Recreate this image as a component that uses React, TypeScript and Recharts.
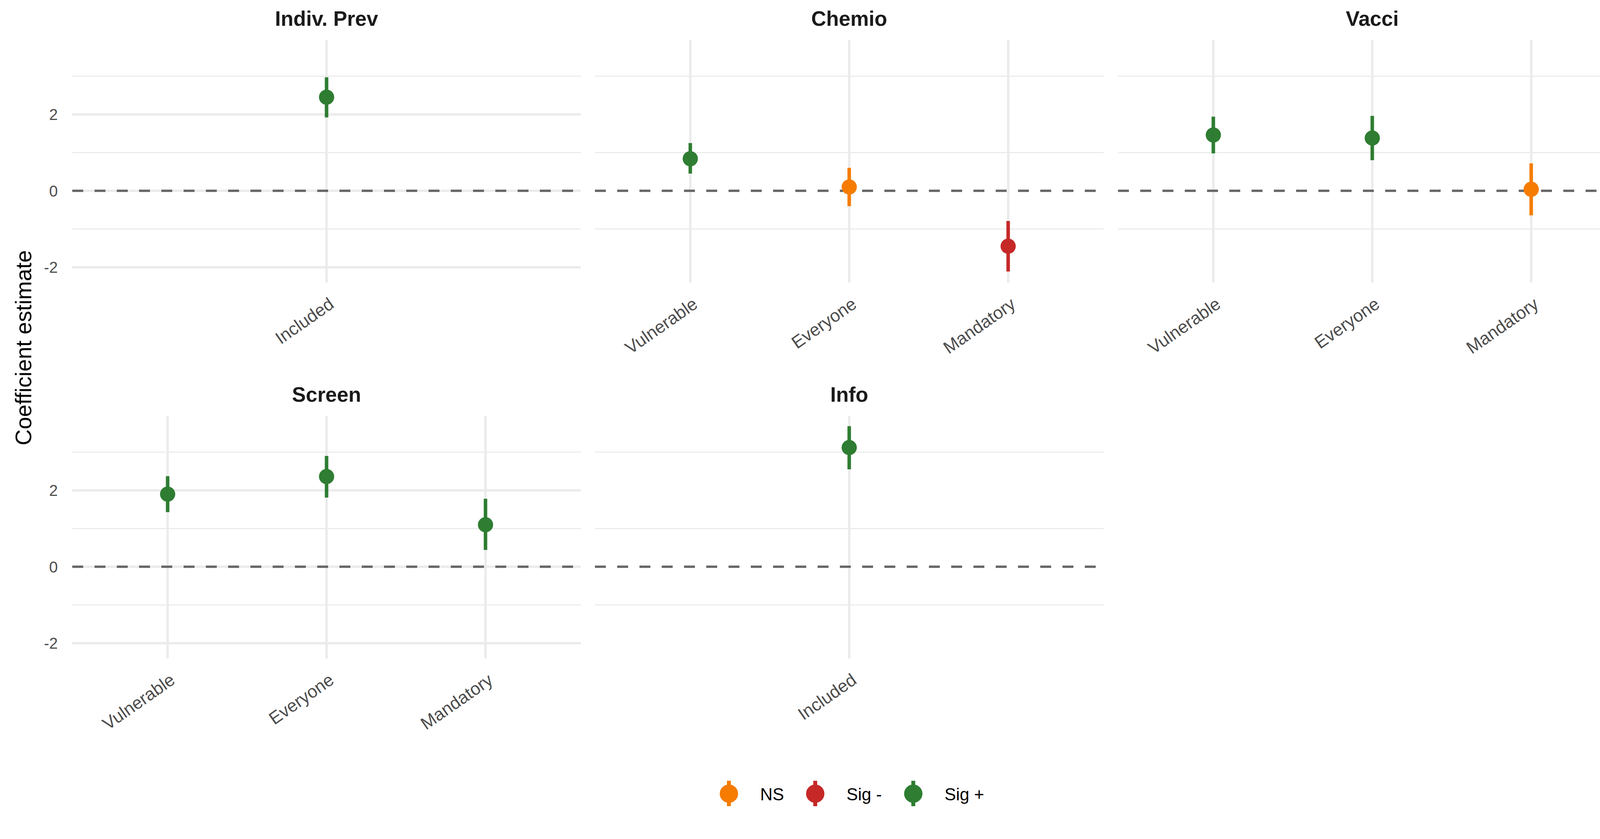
import React from 'react';
import { ComposedChart, Scatter, ErrorBar, XAxis, YAxis, CartesianGrid, ReferenceLine } from 'recharts';

const FONT = '"Liberation Sans", Arial, Helvetica, sans-serif';

// facets in display order
const facets = ['Indiv. Prev', 'Chemio', 'Vacci', 'Screen', 'Info'];

// one entry per coefficient
const rowFacet = ['Indiv. Prev', 'Chemio', 'Chemio', 'Chemio', 'Vacci', 'Vacci', 'Vacci', 'Screen', 'Screen', 'Screen', 'Info'];
const rowLevel = ['Included', 'Vulnerable', 'Everyone', 'Mandatory', 'Vulnerable', 'Everyone', 'Mandatory', 'Vulnerable', 'Everyone', 'Mandatory', 'Included'];
const estimate = [2.45, 0.84, 0.10, -1.45, 1.46, 1.38, 0.04, 1.90, 2.36, 1.10, 3.12];
const lower = [1.92, 0.45, -0.40, -2.11, 0.98, 0.80, -0.64, 1.43, 1.81, 0.44, 2.55];
const upper = [2.97, 1.25, 0.60, -0.79, 1.94, 1.96, 0.72, 2.37, 2.90, 1.78, 3.68];
const signif = ['Sig +', 'Sig +', 'NS', 'Sig -', 'Sig +', 'Sig +', 'NS', 'Sig +', 'Sig +', 'Sig +', 'Sig +'];

const statuses = ['NS', 'Sig -', 'Sig +'];
const statusColours = ['#F57C00', '#C62828', '#2E7D32'];

const yMajor = [-2, 0, 2];
const yMinor = [-1, 1, 3];
const yDomain = [-2.4, 3.95];

// layout
const PANEL_W = 1302;
const PANEL_H = 621;
const PAD_L = 180;
const PAD_B = 300;
const COL_LEFT = [185, 1523, 2862];
const ROW_TOP = [102, 1064];
const ROW_STEP = 962;

function Panel({ index }: { index: number }) {
  const name = facets[index];
  const col = index % 3;
  const row = Math.floor(index / 3);
  const idx = rowFacet.map((f, i) => (f === name ? i : -1)).filter(i => i >= 0);
  const levels = idx.map(i => rowLevel[i]);
  const points = idx.map((i, k) => ({
    pos: k + 1,
    est: estimate[i],
    err: [estimate[i] - lower[i], upper[i] - estimate[i]],
    status: signif[i],
  }));
  const positions = levels.map((_, k) => k + 1);
  const showY = col === 0;

  const XTick = (props: any) => {
    const { x, y, payload } = props;
    const ax = x + 22;
    const ay = y + 62;
    return (
      <text x={ax} y={ay} transform={`rotate(-35 ${ax} ${ay})`} textAnchor="end"
        fontSize={45} fill="#4D4D4D" fontFamily={FONT}>
        {levels[payload.value - 1]}
      </text>
    );
  };

  const YTick = (props: any) => {
    const { x, y, payload } = props;
    return (
      <text x={x - 37} y={y} dy="0.36em" textAnchor="end" fontSize={40} fill="#4D4D4D" fontFamily={FONT}>
        {payload.value}
      </text>
    );
  };

  return (
    <div style={{ position: 'absolute', left: COL_LEFT[col] - PAD_L, top: ROW_TOP[row] }}>
      <ComposedChart width={PAD_L + PANEL_W} height={PANEL_H + PAD_B} margin={{ top: 0, right: 0, bottom: 0, left: 0 }}>
        <CartesianGrid stroke="#EBEBEB" strokeWidth={6} horizontalValues={yMajor} verticalValues={positions} />
        <XAxis type="number" dataKey="pos" domain={[0.4, levels.length + 0.6]} ticks={positions} interval={0}
          height={PAD_B} axisLine={false} tickLine={false} tickSize={0} tickMargin={0} tick={<XTick />} allowDataOverflow />
        <YAxis type="number" dataKey="est" domain={yDomain} ticks={yMajor} interval={0} width={PAD_L}
          axisLine={false} tickLine={false} tickSize={0} tickMargin={0} tick={showY ? <YTick /> : false} allowDataOverflow />
        {yMinor.map(v => (
          <ReferenceLine key={v} y={v} stroke="#EBEBEB" strokeWidth={3} />
        ))}
        <ReferenceLine y={0} stroke="#666666" strokeWidth={6} strokeDasharray="28 29" />
        {statuses.map((s, si) => {
          const data = points.filter(p => p.status === s);
          if (!data.length) return null;
          return (
            <Scatter key={s} name={s} data={data} isAnimationActive={false}
              shape={(p: any) => <circle cx={p.cx} cy={p.cy} r={19.5} fill={statusColours[si]} />}>
              <ErrorBar dataKey="err" direction="y" width={0} stroke={statusColours[si]} strokeWidth={9} isAnimationActive={false} />
            </Scatter>
          );
        })}
      </ComposedChart>
    </div>
  );
}

export default function App() {
  return (
    <div style={{ position: 'absolute', left: 0, top: 0, width: 4200, height: 2147, background: '#fff', fontFamily: FONT }}>
      {facets.map((_, i) => <Panel key={i} index={i} />)}
      <svg width={4200} height={2147} style={{ position: 'absolute', left: 0, top: 0, pointerEvents: 'none' }}>
        {facets.map((f, i) => (
          <text key={f} x={COL_LEFT[i % 3] + PANEL_W / 2} y={66 + Math.floor(i / 3) * ROW_STEP} textAnchor="middle"
            fontSize={53} fontWeight="bold" fill="#1A1A1A" fontFamily={FONT}>
            {f}
          </text>
        ))}
        <text x={80} y={890} transform="rotate(-90 80 890)" textAnchor="middle" fontSize={57} fill="#000" fontFamily={FONT}>
          Coefficient estimate
        </text>
        {statuses.map((s, i) => {
          const cx = [1866, 2087, 2338][i];
          return (
            <g key={s}>
              <line x1={cx} x2={cx} y1={1998} y2={2063} stroke={statusColours[i]} strokeWidth={10} />
              <circle cx={cx} cy={2031} r={23.5} fill={statusColours[i]} />
              <text x={cx + 80} y={2048} fontSize={44} fill="#000" fontFamily={FONT}>{s}</text>
            </g>
          );
        })}
      </svg>
    </div>
  );
}
